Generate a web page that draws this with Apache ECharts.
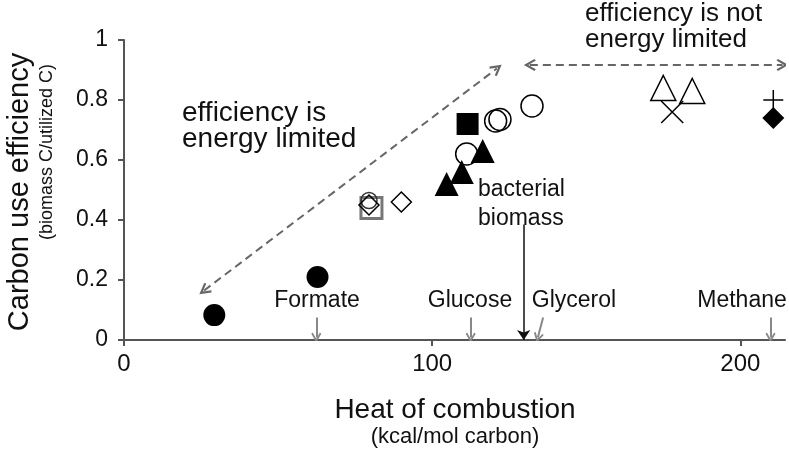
<!DOCTYPE html>
<html lang="en">
<head>
<meta charset="UTF-8" />
<title>Carbon use efficiency</title>
<script src="https://cdn.jsdelivr.net/npm/echarts@6/dist/echarts.min.js"></script>
<style>
  html, body { margin: 0; background: #fff; }
  #main { width: 789px; height: 453px; }
</style>
</head>
<body>
<div id="main"></div>
<script>
  // x: heat of combustion (kcal/mol C), y: carbon use efficiency
  var filledCircles = [[29.3, 0.083], [62.8, 0.21]];
  var graySquares = [[80.3, 0.44]];
  var openDiamonds = [[79.5, 0.45], [90, 0.46]];
  var smallCircles = [[79.5, 0.465]];
  var filledSquares = [[111.5, 0.72]];
  var openCircles = [[111.2, 0.62], [120.6, 0.73], [122, 0.735], [132.4, 0.78]];
  var filledTriangles = [[104.7, 0.52], [109.6, 0.56], [116.4, 0.63]];
  var openTriangles = [[175, 0.84], [184.4, 0.83]];
  var crosses = [[177.9, 0.76]];
  var pluses = [[210.7, 0.80]];
  var filledDiamonds = [[210.7, 0.74]];

  // annotation arrows (data coords)
  var energyArrow = [[26, 0.165], [121, 0.905]];
  var notEnergyArrow = [[131.7, 0.917], [213.7, 0.917]];
  var biomassArrow = [[129.7, 0.385], [129.7, 0.0]];
  var substrates = ['Formate', 'Glucose', 'Glycerol', 'Methane'];
  var substrateTop = [[62.4, 0.075], [112.5, 0.075], [136, 0.075], [209.8, 0.075]];
  var substrateBottom = [[62.4, 0.008], [112.5, 0.008], [134.3, 0.008], [209.8, 0.008]];

  var font = 'Liberation Sans';
  var ink = '#111';
  var chevron = 'path://M0,9L6,0L12,9L10.3,10.2L6,3.8L1.7,10.2Z';

  function pts(data, symbol, size, fill, stroke, bw) {
    return {
      type: 'scatter', data: data, symbol: symbol, symbolSize: size, silent: true,
      itemStyle: { color: fill, borderColor: stroke || 'transparent', borderWidth: bw || 0, opacity: 1 }
    };
  }

  function txt(x, y, text, size, extra) {
    var t = {
      type: 'text', x: x, y: y, silent: true,
      style: { text: text, fontSize: size, fontFamily: font, fill: ink, align: 'left', verticalAlign: 'middle' }
    };
    if (extra) for (var k in extra) t.style[k] = extra[k];
    return t;
  }

  var arrowData = [];
  for (var i = 0; i < substrates.length; i++) {
    arrowData.push({ coords: [substrateTop[i], substrateBottom[i]] });
  }

  var chart = echarts.init(document.getElementById('main'));
  var option = {
    animation: false,
    grid: { left: 124, right: 4, top: 40, bottom: 113 },
    xAxis: {
      type: 'value', min: 0, max: 214.5, interval: 100,
      axisLine: { onZero: false, lineStyle: { color: '#555', width: 2 } },
      axisTick: { customValues: [0, 100, 200], length: 6, lineStyle: { color: '#555', width: 2 } },
      axisLabel: { customValues: [0, 100, 200], fontSize: 24, color: ink, fontFamily: font, margin: 12 },
      splitLine: { show: false }
    },
    yAxis: {
      type: 'value', min: 0, max: 1, interval: 0.2,
      axisLine: { show: true, lineStyle: { color: '#555', width: 2 } },
      axisTick: { show: true, length: 6, lineStyle: { color: '#555', width: 2 } },
      axisLabel: { fontSize: 23, color: ink, fontFamily: font, margin: 16 },
      splitLine: { show: false }
    },
    series: [
      {
        type: 'lines', coordinateSystem: 'cartesian2d', silent: true, z: 1,
        symbol: [chevron, chevron], symbolSize: 12,
        lineStyle: { color: '#666', width: 2, type: [8, 5], opacity: 1 },
        data: [{ coords: energyArrow }, { coords: notEnergyArrow }]
      },
      {
        type: 'lines', coordinateSystem: 'cartesian2d', silent: true, z: 1,
        symbol: ['none', chevron], symbolSize: 10,
        lineStyle: { color: '#888', width: 2, opacity: 1 },
        data: arrowData
      },
      {
        type: 'lines', coordinateSystem: 'cartesian2d', silent: true, z: 1,
        symbol: ['none', 'arrow'], symbolSize: 10,
        lineStyle: { color: '#111', width: 1.5, opacity: 1 },
        data: [{ coords: biomassArrow }]
      },
      pts(filledCircles, 'circle', 22, '#000'),
      pts(graySquares, 'rect', 21, '#fff', '#777', 3),
      pts(smallCircles, 'circle', 16, 'transparent', '#333', 1.5),
      pts(openDiamonds, 'diamond', 20, 'transparent', '#000', 1.5),
      pts(filledSquares, 'rect', 22, '#000'),
      pts(openCircles, 'circle', 22, 'transparent', '#000', 1.5),
      pts(filledTriangles, 'triangle', 24, '#000'),
      pts(openTriangles, 'triangle', 25, '#fff', '#000', 1.5),
      pts(crosses, 'path://M0,0L20,20M20,0L0,20', 22, 'transparent', '#000', 1.5),
      pts(pluses, 'path://M10,0L10,20M0,10L20,10', 20, 'transparent', '#000', 1.5),
      pts(filledDiamonds, 'diamond', 22, '#000')
    ],
    graphic: [
      txt(182, 113, 'efficiency is', 28),
      txt(182, 139, 'energy limited', 28),
      txt(585, 14, 'efficiency is not', 26),
      txt(585, 40, 'energy limited', 26),
      txt(478, 190, 'bacterial', 23),
      txt(478, 219, 'biomass', 23),
      txt(317, 301, substrates[0], 23, { align: 'center' }),
      txt(470, 301, substrates[1], 23, { align: 'center' }),
      txt(574, 301, substrates[2], 23, { align: 'center' }),
      txt(742, 301, substrates[3], 23, { align: 'center' }),
      txt(455, 410, 'Heat of combustion', 28, { align: 'center' }),
      txt(455, 437, '(kcal/mol carbon)', 22, { align: 'center' }),
      {
        type: 'text', x: 20, y: 192, rotation: Math.PI / 2, silent: true,
        style: { text: 'Carbon use efficiency', fontSize: 29, fontFamily: font, fill: ink, align: 'center', verticalAlign: 'middle' }
      },
      {
        type: 'text', x: 47, y: 152, rotation: Math.PI / 2, silent: true,
        style: { text: '(biomass C/utilized C)', fontSize: 18, fontFamily: font, fill: ink, align: 'center', verticalAlign: 'middle' }
      }
    ]
  };
  chart.setOption(option);
</script>
</body>
</html>
